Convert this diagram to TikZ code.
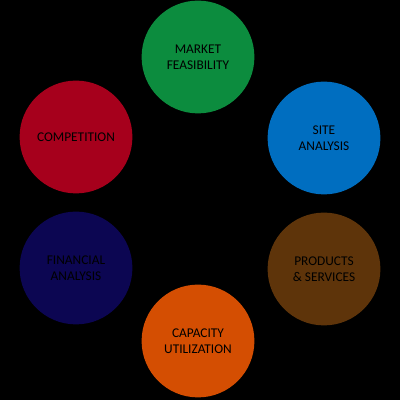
\documentclass[tikz,border=0pt]{standalone}
\usepackage{fontspec}
\setmainfont{Carlito}
\usetikzlibrary{positioning}

\definecolor{mktgreen}{RGB}{12,140,62}
\definecolor{siteblue}{RGB}{0,110,192}
\definecolor{prodbrown}{RGB}{94,52,10}
\definecolor{caporange}{RGB}{212,78,2}
\definecolor{finnavy}{RGB}{12,6,82}
\definecolor{compred}{RGB}{166,0,28}

\begin{document}
\begin{tikzpicture}[
    every node/.style={align=center},
    topic/.style={
        circle,
        minimum size=2.82cm,
        inner sep=0pt,
        font=\fontsize{9.5}{11.4}\selectfont,
        text=black
    }
]
\fill[black] (0,0) rectangle (10,10);
\useasboundingbox (0,0) rectangle (10,10);

\node[topic, fill=mktgreen] (market) at (4.95,8.575) {MARKET\\FEASIBILITY};
\node[topic, fill=siteblue] (site) at (8.1,6.55) {SITE\\ANALYSIS};
\node[topic, fill=prodbrown] (products) at (8.1,3.275) {PRODUCTS\\\& SERVICES};
\node[topic, fill=caporange] (capacity) at (4.95,1.475) {CAPACITY\\UTILIZATION};
\node[topic, fill=finnavy] (financial) at (1.9,3.3) {FINANCIAL\\ANALYSIS};
\node[topic, fill=compred] (competition) at (1.9,6.575) {COMPETITION};
\end{tikzpicture}
\end{document}
